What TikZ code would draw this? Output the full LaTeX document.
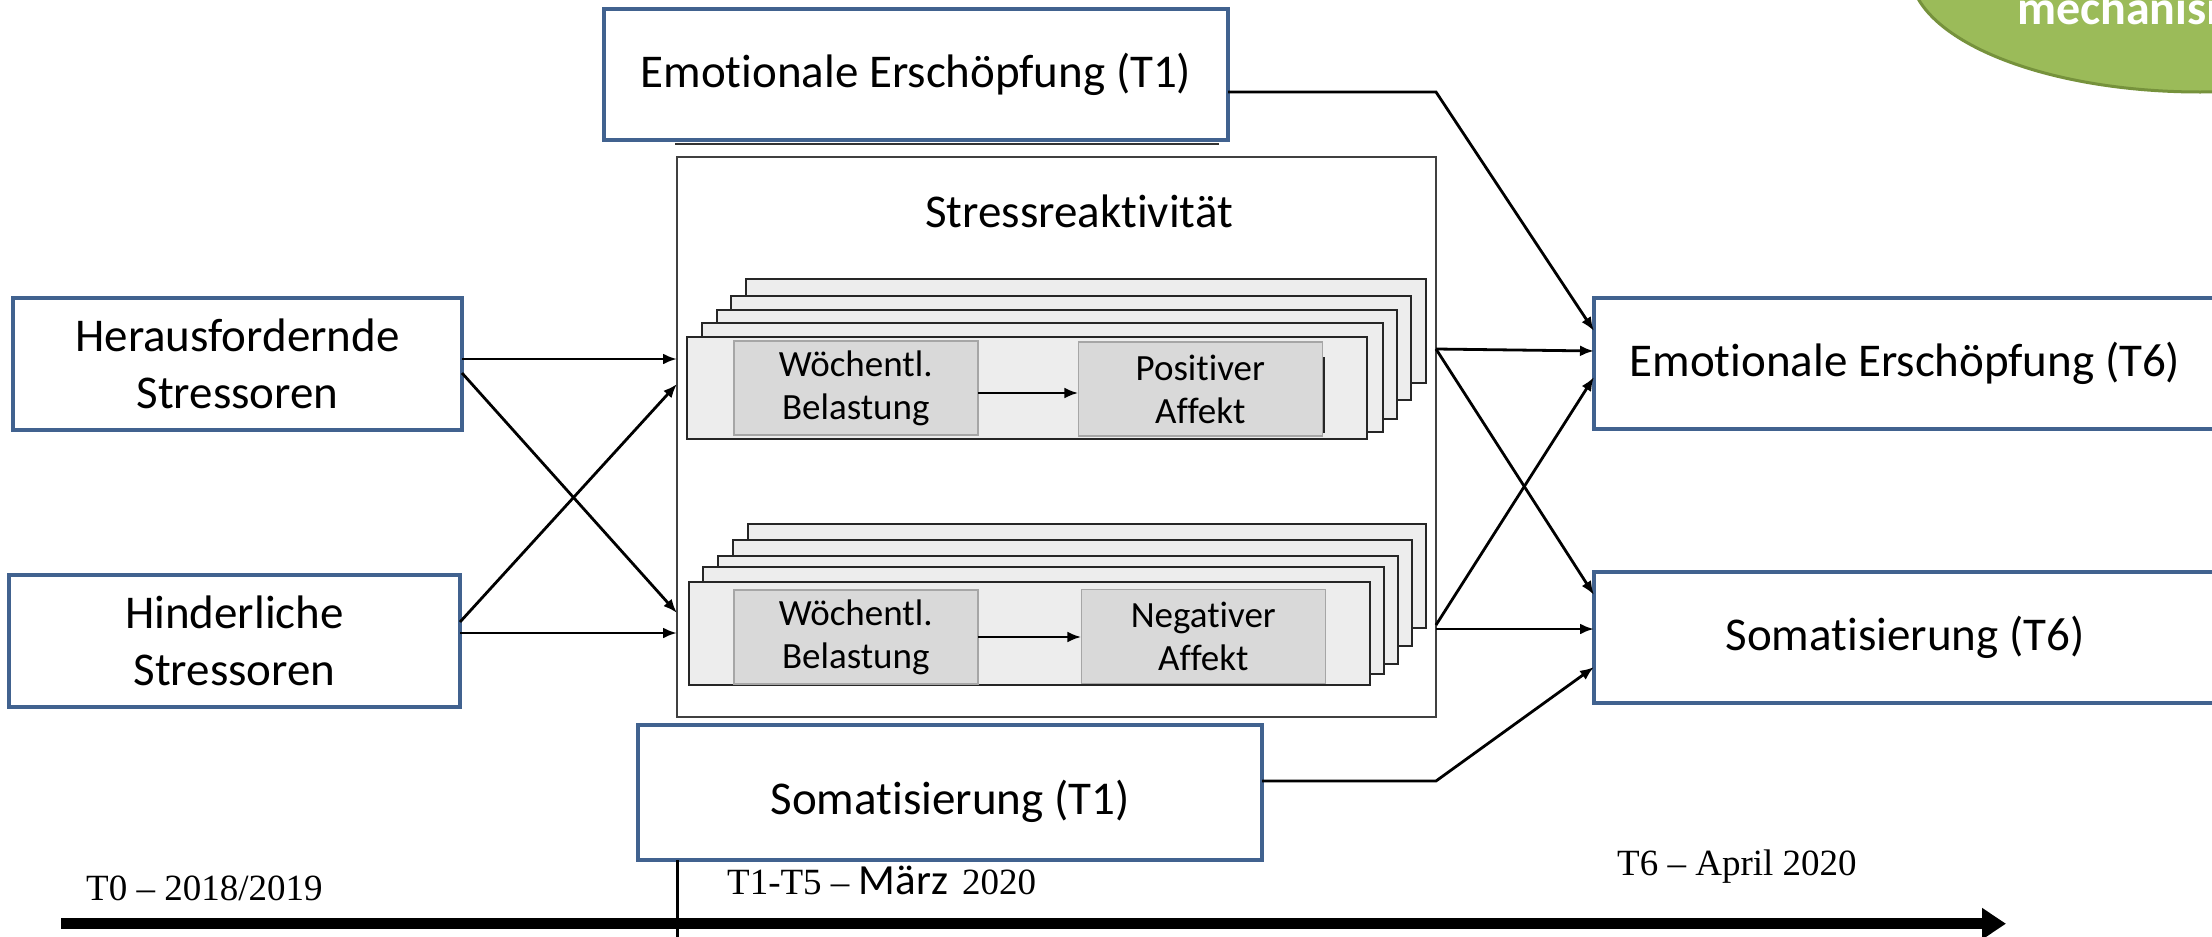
\documentclass[tikz,border=0pt]{standalone}
\usepackage{fontspec}
\setmainfont{Carlito}[Ligatures=NoCommon]
\newfontfamily\timesfont{Liberation Serif}
\usetikzlibrary{arrows.meta,calc}

\definecolor{boxblue}{HTML}{41628F}
\definecolor{framegray}{HTML}{EDEDED}
\definecolor{innergray}{HTML}{D9D9D9}
\definecolor{innerline}{HTML}{A6A6A6}
\definecolor{leafgreen}{HTML}{9BBB59}
\definecolor{leafedge}{HTML}{76923C}

\begin{document}
\begin{tikzpicture}[x=1pt,y=-1pt,
  bluebox/.style={draw=boxblue, line width=4pt, fill=white, inner sep=0pt, outer sep=0pt,
    align=center, font=\fontsize{47}{57}\selectfont},
  stackframe/.style={draw=black!85, line width=2pt, fill=framegray},
  innerbox/.style={draw=innerline, line width=1.5pt, fill=innergray, inner sep=0pt, outer sep=0pt,
    align=center, minimum width=244pt, minimum height=94pt, font=\fontsize{37}{43}\selectfont},
  conn/.style={draw=black, line width=2.8pt, -{Latex[length=14pt,width=11pt]}},
  timelabel/.style={inner sep=0pt, anchor=base west, font=\timesfont\fontsize{37}{40}\selectfont},
]
\useasboundingbox (0,0) rectangle (2212,937);
\clip (0,0) rectangle (2212,937);

% green badge in the corner
\draw[fill=leafgreen, draw=leafedge, line width=3pt] (2200,-30) ellipse [x radius=290pt, y radius=122pt];
\node[font=\bfseries\fontsize{48}{52}\selectfont, text=white, anchor=base west, inner sep=0pt] (mech) at (2017,24) {mechanism};

% predictors
\node[bluebox, minimum width=449pt, minimum height=132pt] (her) at (237.5,363.5) {Herausfordernde\\Stressoren};
\node[bluebox, minimum width=451pt, minimum height=132pt] (hin) at (234.5,640.5) {Hinderliche\\Stressoren};

% T1 controls
\node[bluebox, minimum width=624pt, minimum height=131pt] (ee1) at (916,74.5) {Emotionale Erschöpfung (T1)};
\draw[black!80, line width=2pt] ($(ee1.south west)+(71,3.5)$) -- ($(ee1.south east)+(-9,3.5)$);
\node[bluebox, minimum width=624pt, minimum height=135pt, text height=43pt, text depth=0pt] (s1) at (950,792.5) {Somatisierung (T1)};

% outcomes
\node[bluebox, minimum width=622pt, minimum height=131pt] (ee6) at (1905,363.5) {Emotionale Erschöpfung (T6)};
\node[bluebox, minimum width=622pt, minimum height=131pt] (s6) at (1905,637.5) {Somatisierung (T6)};

% stress reactivity block
\node[draw=black!75, line width=2pt, fill=white, minimum width=759pt, minimum height=560pt, inner sep=0pt, outer sep=0pt] (sr) at (1056.5,437) {};
\node[font=\fontsize{47}{57}\selectfont, anchor=base, inner sep=0pt] (srtitle) at (1079,227) {Stressreaktivität};

% weekly stack: positive affect
\draw[stackframe] (746,279) rectangle (1426,383);
\draw[stackframe] (731,296) rectangle (1411,400);
\draw[stackframe] (717,310) rectangle (1397,419);
\draw[stackframe] (702,323) rectangle (1383,432);
\draw[stackframe] (687,337) rectangle (1367,439);
\node[innerbox] (wb1) at (855.75,388) {Wöchentl.\\Belastung};
\node[innerbox] (pa) at (1200.3,389) {Positiver\\Affekt};
\draw[black!85, line width=2pt] ($(pa.north east)+(1.5,15)$) -- ($(pa.south east)+(1.5,-3)$);
\draw[conn] (wb1.east |- 0,393) -- (pa.west |- 0,393);

% weekly stack: negative affect
\draw[stackframe] (748,524) rectangle (1426,628);
\draw[stackframe] (733,540) rectangle (1412,646);
\draw[stackframe] (718,556) rectangle (1398,664);
\draw[stackframe] (703,567) rectangle (1384,674);
\draw[stackframe] (689,582) rectangle (1370,685);
\node[innerbox] (wb2) at (855.75,637) {Wöchentl.\\Belastung};
\node[innerbox] (na) at (1203.3,636.5) {Negativer\\Affekt};
\draw[conn] (wb2.east |- 0,637) -- (na.west |- 0,637);

% paths into the stress block
\draw[conn] ($(her.east)+(0,-4.5)$) -- (sr.west |- 0,359);
\draw[conn] ($(her.east)+(0,9.5)$) -- (sr.west |- 0,613);
\draw[conn] ($(hin.east)+(0,-18.5)$) -- (sr.west |- 0,384);
\draw[conn] ($(hin.east)+(0,-7.5)$) -- (sr.west |- 0,633);

% paths to the outcomes
\draw[conn] (sr.east |- 0,349) -- (ee6.west |- 0,351);
\draw[conn] (sr.east |- 0,349) -- (s6.west |- 0,595);
\draw[conn] (sr.east |- 0,625) -- (ee6.west |- 0,377);
\draw[conn] (sr.east |- 0,629) -- (s6.west |- 0,629);
\draw[conn] ($(ee1.east)+(0,17.5)$) -- (sr.east |- 0,92) -- (ee6.west |- 0,331);
\draw[conn] ($(s1.east)+(0,-11.5)$) -- (sr.east |- 0,781) -- (s6.west |- 0,667);

% time axis
\coordinate (tlstart) at (61,923.7);
\coordinate (tlend) at (2006,923.7);
\draw[line width=11pt, -{Triangle[length=24pt,width=30pt]}] (tlstart) -- (tlend);
\draw[line width=3pt] (sr.west |- s1.south) -- (sr.west |- 0,940);
\node[timelabel] (t0) at (86,900) {T0 – 2018/2019};
\node[timelabel] (t15) at (727,894) {T1-T5 – {\rmfamily\fontsize{43}{46}\selectfont März}\hspace{14pt}2020};
\node[timelabel] (t6) at (1617,875) {T6 – April 2020};
\end{tikzpicture}
\end{document}
